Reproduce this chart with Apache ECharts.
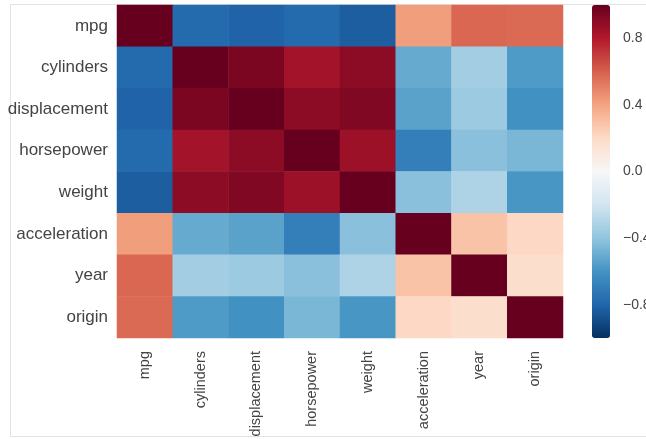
<!DOCTYPE html>
<html>
<head>
<meta charset="utf-8">
<script src="https://cdn.jsdelivr.net/npm/echarts@6/dist/echarts.min.js"></script>
<style>
  html, body { margin: 0; padding: 0; background: #fff; }
  #chart { width: 646px; height: 439px; }
</style>
</head>
<body>
<div id="chart"></div>
<script>
// variables, same order on both axes
var labels = ['mpg', 'cylinders', 'displacement', 'horsepower', 'weight', 'acceleration', 'year', 'origin'];

// correlation matrix, one row per variable
var rowMpg = [1.00, -0.78, -0.81, -0.78, -0.83, 0.42, 0.58, 0.57];
var rowCyl = [-0.78, 1.00, 0.95, 0.84, 0.90, -0.51, -0.35, -0.57];
var rowDisp = [-0.81, 0.95, 1.00, 0.90, 0.93, -0.54, -0.37, -0.61];
var rowHp = [-0.78, 0.84, 0.90, 1.00, 0.86, -0.69, -0.42, -0.46];
var rowWeight = [-0.83, 0.90, 0.93, 0.86, 1.00, -0.42, -0.31, -0.59];
var rowAccel = [0.42, -0.51, -0.54, -0.69, -0.42, 1.00, 0.29, 0.21];
var rowYear = [0.58, -0.35, -0.37, -0.42, -0.31, 0.29, 1.00, 0.18];
var rowOrigin = [0.57, -0.57, -0.61, -0.46, -0.59, 0.21, 0.18, 1.00];
var matrix = [rowMpg, rowCyl, rowDisp, rowHp, rowWeight, rowAccel, rowYear, rowOrigin];

// colorbar tick labels
var cbarTicks = [0.8, 0.4, 0.0, -0.4, -0.8];

// RdBu_r
var rdbu = ['#053061', '#2166ac', '#4393c3', '#92c5de', '#d1e5f0', '#f7f7f7',
            '#fddbc7', '#f4a582', '#d6604d', '#b2182b', '#67001f'];

var cells = [];
matrix.forEach(function (row, i) {
    row.forEach(function (v, j) {
        cells.push([j, i, v]);
    });
});

var chart = echarts.init(document.getElementById('chart'));

var option = {
    backgroundColor: '#fff',
    animation: false,
    graphic: [{
        type: 'rect',
        shape: { x: 10.5, y: 4.5, width: 700, height: 432 },
        style: { fill: 'none', stroke: '#e2e2e2', lineWidth: 1 },
        silent: true,
        z: -10
    }],
    grid: [
        { left: 117, top: 5, width: 446, height: 333, outerBoundsMode: 'none' },
        { left: 592, top: 5, width: 18, height: 333, outerBoundsMode: 'none' }
    ],
    xAxis: [{
        type: 'category',
        data: labels,
        gridIndex: 0,
        axisLine: { show: false },
        axisTick: { show: false },
        splitLine: { show: false },
        axisLabel: {
            rotate: 90,
            margin: 13,
            color: '#444',
            fontSize: 14.5,
            fontFamily: 'Liberation Sans, Arial, sans-serif'
        }
    }, {
        type: 'value',
        gridIndex: 1,
        show: false
    }],
    yAxis: [{
        type: 'category',
        data: labels,
        inverse: true,
        gridIndex: 0,
        axisLine: { show: false },
        axisTick: { show: false },
        splitLine: { show: false },
        axisLabel: {
            margin: 9,
            color: '#444',
            fontSize: 17,
            fontFamily: 'Liberation Sans, Arial, sans-serif'
        }
    }, {
        type: 'value',
        gridIndex: 1,
        position: 'right',
        min: -1,
        max: 1,
        interval: 0.2,
        axisLine: { show: false },
        axisTick: { show: false },
        splitLine: { show: false },
        axisLabel: {
            margin: 13,
            color: '#444',
            fontSize: 14,
            fontFamily: 'Liberation Sans, Arial, sans-serif',
            formatter: function (v) {
                var hit = cbarTicks.some(function (t) { return Math.abs(t - v) < 1e-6; });
                if (!hit) return '';
                return v.toFixed(1).replace('-', '\u2212');
            }
        }
    }],
    visualMap: {
        type: 'continuous',
        min: -1,
        max: 1,
        seriesIndex: 0,
        calculable: false,
        left: 592,
        top: 5,
        itemWidth: 18,
        itemHeight: 333,
        padding: 0,
        text: null,
        showLabel: false,
        hoverLink: false,
        inRange: { color: rdbu }
    },
    series: [{
        type: 'heatmap',
        xAxisIndex: 0,
        yAxisIndex: 0,
        data: cells,
        itemStyle: { borderWidth: 0 },
        emphasis: { disabled: true }
    }]
};

chart.setOption(option);
</script>
</body>
</html>
